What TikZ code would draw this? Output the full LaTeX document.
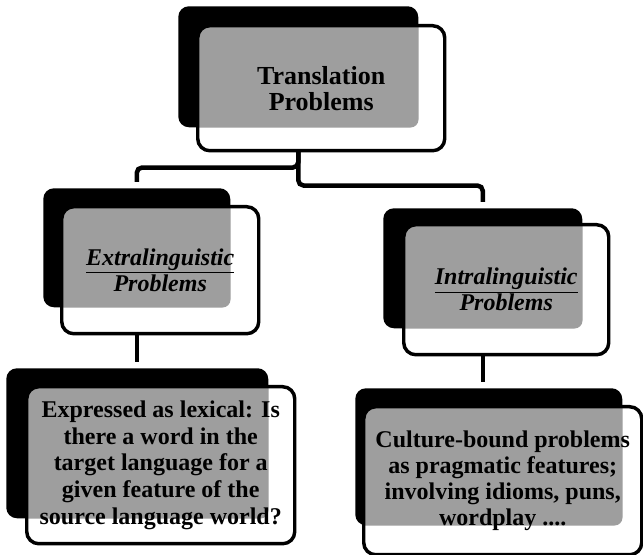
\documentclass[tikz,border=0pt]{standalone}
\usepackage{fontspec}
\setmainfont{Liberation Serif}[
  BoldFont={Liberation Serif Bold},
  ItalicFont={Liberation Serif Italic},
  BoldItalicFont={Liberation Serif Bold Italic}]
\usepackage{tikz}
\usetikzlibrary{positioning, backgrounds, calc}
\newdimen\px
\px=0.75pt

\begin{document}
\begin{tikzpicture}[
  x=0.75pt, y=-0.75pt,
  shadowbox/.style={rectangle, rounded corners=8pt, fill=black, draw=none,
               inner sep=0pt, anchor=north west},
  card/.style={rectangle, rounded corners=9pt, draw=black, fill=white,
               line width=2.6pt, inner sep=0pt, anchor=north west, align=center,
               font=\bfseries\fontsize{18}{19.5}\selectfont,
               path picture={\fill[black!38, rounded corners=6pt]
                 (#1.north west) rectangle (#1.south east);}},
  link/.style={line width=3.4pt, rounded corners=4pt, shorten >=4.5pt},
]
\useasboundingbox (0,0) rectangle (643,555);

% top level
\node[shadowbox, minimum width=240\px, minimum height=121\px] (transSh) at (178,6) {};
\node[card=transSh, minimum width=247\px, minimum height=125\px,
      font=\bfseries\fontsize{19.5}{19.5}\selectfont] (trans)
  at ([shift={(18,18)}]transSh.north west) {Translation\\Problems};

% second level
\node[shadowbox, minimum width=187\px, minimum height=119\px] (extraSh) at (43,188) {};
\node[card=extraSh, minimum width=197\px, minimum height=127\px] (extra)
  at ([shift={(17,17)}]extraSh.north west) {\itshape\underline{Extralinguistic}\\\itshape Problems};

\node[shadowbox, minimum width=199\px, minimum height=120\px] (intraSh) at (383,208) {};
\node[card=intraSh, minimum width=205\px, minimum height=130\px] (intra)
  at ([shift={(19,15)}]intraSh.north west) {\itshape\underline{Intralinguistic}\\\itshape Problems};

% third level
\node[shadowbox, minimum width=262\px, minimum height=150\px] (lexSh) at (6,368) {};
\node[card=lexSh, minimum width=268\px, minimum height=157\px,
      font=\bfseries\fontsize{18}{20}\selectfont] (lex)
  at ([shift={(19,17)}]lexSh.north west)
  {Expressed as lexical: Is\\there a word in the\\target language for a\\given feature of the\\source language world?};

\node[shadowbox, minimum width=267\px, minimum height=137\px] (cultSh) at (355,388) {};
\node[card=cultSh, minimum width=278\px, minimum height=148\px] (cult)
  at ([shift={(7,17)}]cultSh.north west)
  {Culture-bound problems\\as pragmatic features;\\involving idioms, puns,\\wordplay ....};

\begin{scope}[on background layer]
\draw[link] (transSh.south) -- ++(0,40) -| (extraSh.north);
\draw[link] (transSh.south) -- ++(0,58) -| (intraSh.north);
\draw[link] (extraSh.south) -- (extraSh.south |- lexSh.north);
\draw[link] (intraSh.south) -- (intraSh.south |- cultSh.north);
\end{scope}
\end{tikzpicture}
\end{document}
